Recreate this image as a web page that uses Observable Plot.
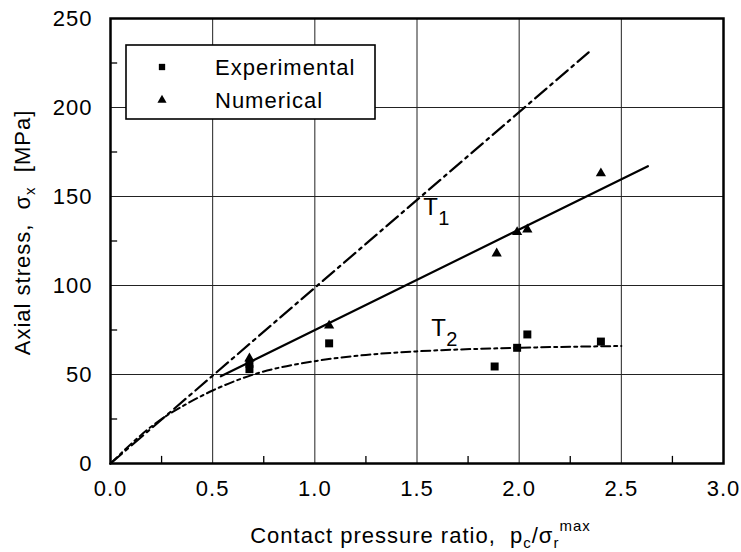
<!DOCTYPE html>
<html><head><meta charset="utf-8">
<script src="https://cdn.jsdelivr.net/npm/d3@7"></script>
<script src="https://cdn.jsdelivr.net/npm/@observablehq/plot@0.6"></script>
<style>
body{margin:0;background:#fff}
svg{display:block}
</style>
</head><body><div id="chart"></div>
<script>
// ---- data ----
const expX = [0.68, 0.68, 1.07, 1.88, 1.99, 2.04, 2.40];
const expY = [53, 56, 67.5, 54.5, 65, 72.5, 68.5];
const numX = [0.68, 1.07, 1.89, 1.99, 2.04, 2.40];
const numY = [59, 77.5, 118, 130, 131.5, 163];
const t1X = [0, 2.34];
const t1Y = [0, 231];
const fitX = [0.54, 2.63];
const fitY = [49, 167];
const t2X = [0, 0.25, 0.35, 0.5, 0.7, 1.0, 1.25, 1.5, 2.0, 2.5];
const t2Y = [0, 25, 32, 41, 50, 57.5, 61, 63, 65, 66];
const xTicks = [0, 0.5, 1, 1.5, 2, 2.5, 3];
const yTicks = [0, 50, 100, 150, 200, 250];
const xMinor = [0.25, 0.75, 1.25, 1.75, 2.25, 2.75];
const yMinor = [25, 75, 125, 175, 225];
const seriesNames = ["Experimental", "Numerical"];
const curveMain = ["T", "T"];
const curveSub = ["1", "2"];
const curveLabelX = [1.53, 1.57];
const curveLabelY = [144, 76];
const xTitle = ["Contact pressure ratio,  p", "c", "/σ", "r", "max"];
const yTitle = ["Axial stress,  σ", "x", "  [MPa]"];

// ---- tables ----
const exp = expX.map((x, i) => ({x, y: expY[i]}));
const num = numX.map((x, i) => ({x, y: numY[i]}));
const t1 = t1X.map((x, i) => ({x, y: t1Y[i]}));
const fit = fitX.map((x, i) => ({x, y: fitY[i]}));
const t2 = t2X.map((x, i) => ({x, y: t2Y[i]}));
const labels = curveMain.map((t, i) => ({x: curveLabelX[i], y: curveLabelY[i], t, s: curveSub[i]}));

const FONT = '"Liberation Sans", Arial, Helvetica, sans-serif';
const W = 741, H = 552;
const mL = 110, mR = 18, mT = 18, mB = 89;

const plot = Plot.plot({
  width: W, height: H,
  marginLeft: mL, marginRight: mR, marginTop: mT, marginBottom: mB,
  x: {domain: [0, 3]},
  y: {domain: [0, 250]},
  style: {fontFamily: FONT, fontSize: "22px", color: "#000", background: "#fff", overflow: "visible", letterSpacing: "1px"},
  marks: [
    Plot.gridX(xTicks, {stroke: "#222", strokeOpacity: 1, strokeWidth: 1}),
    Plot.gridY(yTicks, {stroke: "#222", strokeOpacity: 1, strokeWidth: 1}),
    Plot.ruleX(xMinor, {y1: 0, y2: 4, stroke: "#000", strokeWidth: 1.3}),
    Plot.ruleY(yMinor, {x1: 0, x2: 0.035, stroke: "#000", strokeWidth: 1.3}),
    Plot.axisX(xTicks, {tickSize: 0, tickPadding: 17, tickFormat: d3.format(".1f"), label: null, fontSize: 22}),
    Plot.axisY(yTicks, {tickSize: 0, tickPadding: 18, label: null, fontSize: 22}),
    Plot.line(t1, {x: "x", y: "y", stroke: "#000", strokeWidth: 2.2, strokeDasharray: "15,5,3,5"}),
    Plot.line(fit, {x: "x", y: "y", stroke: "#000", strokeWidth: 2.2}),
    Plot.line(t2, {x: "x", y: "y", stroke: "#000", strokeWidth: 2, curve: "monotone-x", strokeDasharray: "9,4,3,4"}),
    Plot.dot(exp, {x: "x", y: "y", symbol: "square", r: 4.5, fill: "#000", stroke: "none"}),
    Plot.dot(num, {x: "x", y: "y", symbol: "triangle", r: 3.8, fill: "#000", stroke: "none"}),
    Plot.text(labels, {x: "x", y: "y", text: "t", textAnchor: "start", fontSize: 24, fill: "#000"}),
    Plot.text(labels, {x: "x", y: "y", text: "s", textAnchor: "start", fontSize: 20, dx: 15, dy: 11, fill: "#000"}),
    Plot.frame({stroke: "#000", strokeWidth: 2.5})
  ]
});

const svg = d3.select(plot);

// legend (inside the frame, top-left)
const lg = svg.append("g").attr("font-family", FONT).attr("font-size", 22).attr("text-anchor", "start");
lg.append("rect").attr("x", 126).attr("y", 45).attr("width", 249).attr("height", 74)
  .attr("fill", "#fff").attr("stroke", "#000").attr("stroke-width", 1.6);
const legSymbols = [d3.symbolSquare, d3.symbolTriangle];
const legSizes = [40, 36];
seriesNames.forEach((name, i) => {
  const cy = 67 + i * 33;
  lg.append("path").attr("d", d3.symbol(legSymbols[i], legSizes[i])())
    .attr("transform", `translate(162,${cy})`).attr("fill", "#000");
  lg.append("text").attr("x", 215).attr("y", cy).attr("dy", "0.36em").attr("fill", "#000").text(name);
});

// x title with sub/superscripts
const xt = svg.append("text").attr("x", (mL + W - mR) / 2 + 4).attr("y", 543)
  .attr("text-anchor", "middle").attr("font-family", FONT).attr("font-size", 22)
  .attr("fill", "#000").style("white-space", "pre");
xt.append("tspan").text(xTitle[0]);
xt.append("tspan").attr("font-size", 15).attr("dy", 5).text(xTitle[1]);
xt.append("tspan").attr("dy", -5).text(xTitle[2]);
xt.append("tspan").attr("font-size", 15).attr("dy", 5).text(xTitle[3]);
xt.append("tspan").attr("font-size", 15).attr("dy", -17).text(xTitle[4]);

// y title
const yt = svg.append("text").attr("transform", `translate(30,${(mT + H - mB) / 2 - 8}) rotate(-90)`)
  .attr("text-anchor", "middle").attr("font-family", FONT).attr("font-size", 22)
  .attr("fill", "#000").style("white-space", "pre");
yt.append("tspan").text(yTitle[0]);
yt.append("tspan").attr("font-size", 15).attr("dy", 5).text(yTitle[1]);
yt.append("tspan").attr("dy", -5).text(yTitle[2]);

document.getElementById("chart").appendChild(plot);
</script>
</body></html>
